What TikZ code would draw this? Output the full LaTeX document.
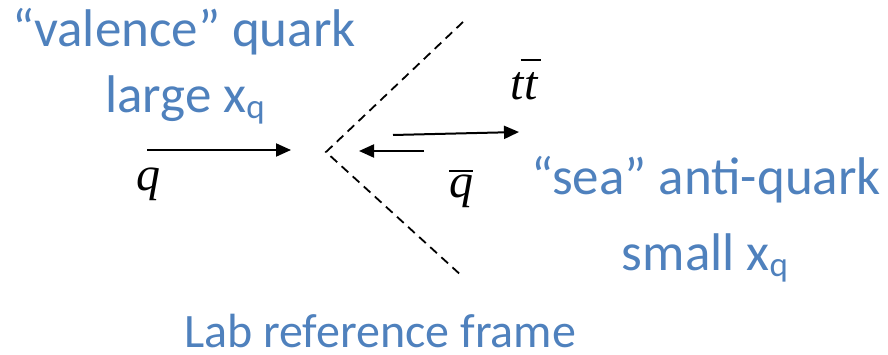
\documentclass[tikz,border=0pt]{standalone}
\usepackage{fontspec}
\usetikzlibrary{arrows.meta}
\newfontfamily\calibri{Carlito}
\newfontfamily\serif{Liberation Serif}
\definecolor{labblue}{RGB}{79,129,189}
\newcommand{\subq}{\raisebox{-6pt}{\fontsize{35}{40}\selectfont q}}
\newcommand{\barred}[3]{\ooalign{#1\cr\hidewidth\raisebox{#2}{\rule{#3}{2pt}}\hidewidth\cr}}
\tikzset{
  bluetext/.style={
    anchor=base, inner sep=0pt, text=labblue,
    font=\calibri\fontsize{53}{60}\selectfont
  },
  mathlabel/.style={
    anchor=base, inner sep=0pt,
    font=\serif\itshape\fontsize{48}{56}\selectfont
  },
  beamarrow/.style={-{Triangle[length=15pt,width=13pt]}, line width=2pt},
  jetline/.style={dashed, dash pattern=on 9pt off 6pt, line width=1.8pt},
}
\begin{document}
\begin{tikzpicture}[x=1pt,y=-1pt]
  \useasboundingbox (0,0) rectangle (888,355);
  \coordinate (vtx) at (326,152);
  \coordinate (jetup) at (463,22);
  \coordinate (jetdown) at (463,277);
  \coordinate (qstart) at (147,150);
  \coordinate (qend) at (291,150);
  \coordinate (qbstart) at (424,151);
  \coordinate (qbend) at (359,151);
  \coordinate (ttstart) at (393,135);
  \coordinate (ttend) at (519,132);
  \node[bluetext] (val1) at (184,47) {“valence” quark};
  \node[bluetext] (val2) at (185,113) {large x\subq};
  \node[bluetext] (sea1) at (706,195) {“sea” anti-quark};
  \node[bluetext] (sea2) at (705,270) {small x\subq};
  \node[bluetext, font=\calibri\fontsize{48}{56}\selectfont]
    (frame) at (380,347) {Lab reference frame};
  \node[mathlabel] (qlab) at (148,191) {q};
  \node[mathlabel] (qblab) at (461,198) {\barred{q}{26pt}{24pt}};
  \node[mathlabel] (ttlab) at (524,100) {t\barred{t}{39pt}{20pt}};
  \draw[jetline] (jetup) -- (vtx) -- (jetdown);
  \draw[beamarrow] (qstart) -- (qend);
  \draw[beamarrow] (qbstart) -- (qbend);
  \draw[beamarrow] (ttstart) -- (ttend);
\end{tikzpicture}
\end{document}
